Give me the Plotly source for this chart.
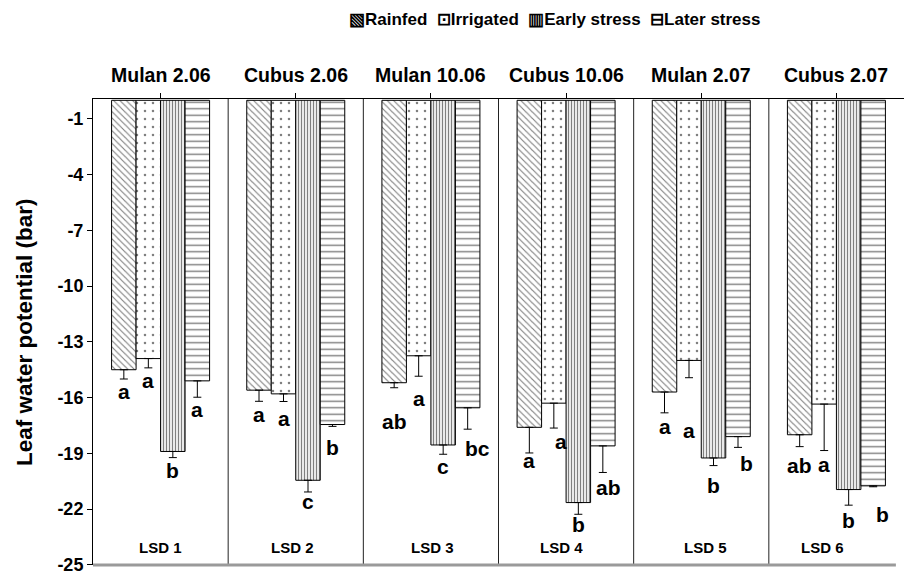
import plotly.graph_objects as go

groups = ["Mulan 2.06", "Cubus 2.06", "Mulan 10.06", "Cubus 10.06", "Mulan 2.07", "Cubus 2.07"]
lsd_labels = ["LSD 1", "LSD 2", "LSD 3", "LSD 4", "LSD 5", "LSD 6"]
series_names = ["Rainfed", "Irrigated", "Early stress", "Later stress"]
legend_symbols = ["▧", "⊡", "▥", "⊟"]

rainfed = [-14.5, -15.6, -15.2, -17.6, -15.7, -18.0]
irrigated = [-13.9, -15.8, -13.75, -16.3, -14.0, -16.35]
early = [-18.9, -20.45, -18.55, -21.65, -19.25, -20.95]
later = [-15.1, -17.45, -16.55, -18.6, -18.1, -20.75]

rainfed_err = [0.5, 0.6, 0.27, 1.38, 1.12, 0.64]
irrigated_err = [0.5, 0.41, 1.1, 1.34, 0.93, 2.5]
early_err = [0.33, 0.63, 0.5, 0.63, 0.41, 0.84]
later_err = [0.88, 0.1, 1.15, 1.43, 0.58, 0.05]

rainfed_letters = ["a", "a", "ab", "a", "a", "ab"]
irrigated_letters = ["a", "a", "a", "a", "a", "a"]
early_letters = ["b", "c", "c", "b", "b", "b"]
later_letters = ["a", "b", "bc", "ab", "b", "b"]

y_ticks = [-1, -4, -7, -10, -13, -16, -19, -22, -25]
y_tick_text = ["-1", "-4", "-7", "-10", "-13", "-16", "-19", "-22", "-25"]

values = [rainfed, irrigated, early, later]
errors = [rainfed_err, irrigated_err, early_err, later_err]
letters = [rainfed_letters, irrigated_letters, early_letters, later_letters]

# styling (layout only)
patterns = [
    dict(shape="\\", size=4.5, solidity=0.25),
    dict(shape=".", size=8, solidity=0.08),
    dict(shape="|", size=3, solidity=0.45),
    dict(shape="-", size=6.5, solidity=0.22),
]
# pixel gap between error-bar end and letter centre, and horizontal nudges
letter_gap = [
    [12, 13, 34, 8, 14, 19],
    [13, 17, 22, 13, 53, 14],
    [13, 10, 12, 10, 20, 15],
    [12, 21, 19, 15, 16, 28],
]
letter_dx = [
    [0, 0, 0, 0, 0, 0],
    [0, 0, 0, 7, 0, 0],
    [0, 0, 0, 0, 0, 0],
    [0, 0, 10, 6, 8, 9],
]

FONT = "Liberation Sans, Arial, sans-serif"
BARGAP = 0.275
n_series = 4
bar_w = (1 - BARGAP) / n_series
offsets = [(-1.5 + k) * bar_w for k in range(n_series)]

fig = go.Figure()
x_idx = list(range(len(groups)))
for k in range(n_series):
    fig.add_trace(go.Bar(
        x=x_idx,
        y=values[k],
        name=series_names[k],
        marker=dict(
            color="white",
            line=dict(color="black", width=1),
            pattern=dict(fgcolor="black", bgcolor="white", fillmode="overlay", **patterns[k]),
        ),
        error_y=dict(
            type="data", symmetric=False,
            array=[0] * len(groups), arrayminus=errors[k],
            color="black", thickness=1, width=4,
        ),
    ))

annotations = []
for k in range(n_series):
    for i in range(len(groups)):
        annotations.append(dict(
            x=i + offsets[k], y=values[k][i] - errors[k][i], xref="x", yref="y",
            text=letters[k][i], showarrow=False, yanchor="middle", xanchor="center",
            yshift=-letter_gap[k][i], xshift=letter_dx[k][i],
            font=dict(family=FONT, size=21, color="black", weight="bold"),
        ))

for i, g in enumerate(groups):
    annotations.append(dict(
        x=i, y=1.051, xref="x", yref="paper", text=g, showarrow=False,
        xanchor="center", yanchor="middle",
        font=dict(family=FONT, size=19.5, color="black", weight="bold"),
    ))

lsd_dx = [0, -3, 2, -5, 4, -14]
for i, t in enumerate(lsd_labels):
    annotations.append(dict(
        x=i, y=-25, xref="x", yref="y", text=t, showarrow=False,
        yanchor="bottom", yshift=7, xshift=lsd_dx[i],
        font=dict(family=FONT, size=15, color="black", weight="bold"),
    ))

annotations.append(dict(
    x=-0.085, y=0.5, xref="paper", yref="paper", text="Leaf water potential (bar)",
    textangle=-90, showarrow=False, xanchor="center", yanchor="middle",
    font=dict(family=FONT, size=22.5, color="black", weight="bold"),
))

legend_text = "  ".join(s + n for s, n in zip(legend_symbols, series_names))
annotations.append(dict(
    x=0.5697, y=1.1709, xref="paper", yref="paper", text=legend_text,
    showarrow=False, xanchor="center", yanchor="middle",
    font=dict(family=FONT, size=17, color="black", weight="bold"),
))

shapes = []
for i in range(len(groups) - 1):
    shapes.append(dict(type="line", xref="x", yref="paper", x0=i + 0.5, x1=i + 0.5,
                       y0=0, y1=1, line=dict(color="#222", width=1)))
shapes.append(dict(type="line", xref="paper", yref="paper", x0=0, x1=0.99, y0=0, y1=0,
                   line=dict(color="#9a9a9a", width=3)))

fig.update_layout(
    width=905, height=576,
    margin=dict(l=93, r=1, t=99, b=9),
    paper_bgcolor="white", plot_bgcolor="white",
    barmode="group", bargap=BARGAP, bargroupgap=0,
    showlegend=False,
    xaxis=dict(side="top", range=[-0.5, len(groups) - 0.5], showticklabels=False,
               tickmode="array", tickvals=x_idx, ticks="outside", tickson="boundaries",
               ticklen=5, tickcolor="black", showline=True, linecolor="black", linewidth=1,
               showgrid=False, zeroline=False, fixedrange=True),
    yaxis=dict(range=[-25.01, 0.07], tickmode="array", tickvals=y_ticks, ticktext=y_tick_text,
               ticks="outside", ticklen=5, ticklabeloverflow="allow",
               tickcolor="black", showline=True, linecolor="black", linewidth=1,
               showgrid=False, zeroline=False,
               tickfont=dict(family=FONT, size=18, color="black", weight="bold")),
    annotations=annotations,
    shapes=shapes,
)

fig.write_html("out.html")
